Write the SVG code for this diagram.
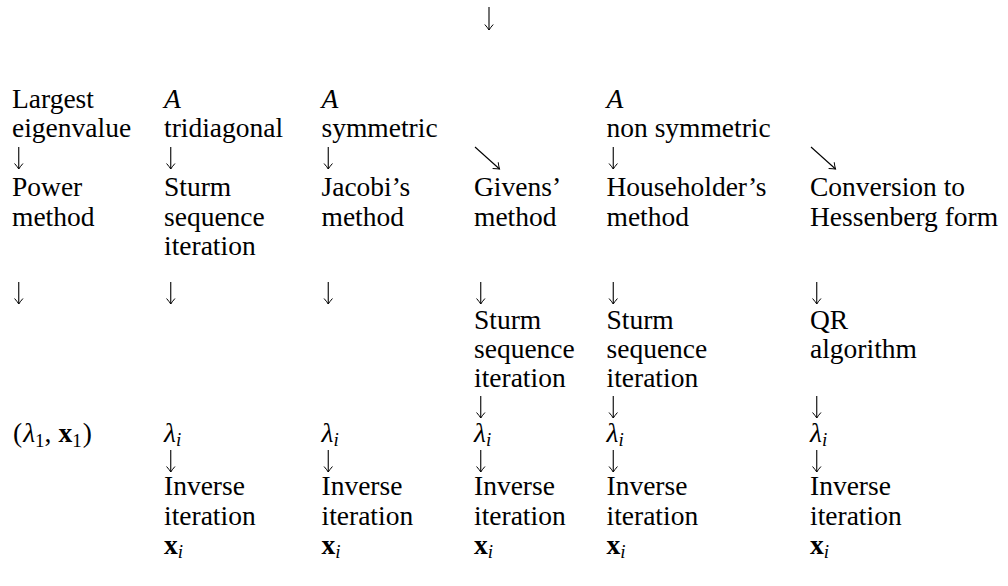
<svg xmlns="http://www.w3.org/2000/svg" width="1008" height="586" viewBox="0 0 1008 586">
<defs>
<style>
.t{font-family:"Liberation Serif","Times New Roman",serif;font-size:27.5px;fill:#000}
.i{font-style:italic}
.b{font-weight:bold}
.s{font-size:19px;font-style:italic}
.n{font-size:19px}
.c{stroke:#000;stroke-width:1.1;fill:none}
</style>
<marker id="ah" viewBox="-7 -6 8 12" refX="0" refY="0" markerWidth="8" markerHeight="12" markerUnits="userSpaceOnUse" orient="auto" overflow="visible">
<path d="M-5.5,-4.2 Q-1.8,-1 0,0 Q-1.8,1 -5.5,4.2" stroke="#000" stroke-width="1" fill="none"/>
</marker>
</defs>
<rect width="1008" height="586" fill="#fff"/>
<g id="connectors" class="c" marker-end="url(#ah)">
<path d="M489,7 V30"/>
<path d="M18.75,147 V169"/>
<path d="M170.75,147 V169"/>
<path d="M328.25,147 V169"/>
<path d="M475,147 L499.5,169"/>
<path d="M613.25,147 V169"/>
<path d="M811,147 L835.5,169"/>
<path d="M18.75,282 V304"/>
<path d="M170.75,282 V304"/>
<path d="M328.25,282 V304"/>
<path d="M480.75,282 V304"/>
<path d="M613.25,282 V304"/>
<path d="M816.75,282 V304"/>
<path d="M480.75,396 V418"/>
<path d="M613.25,396 V418"/>
<path d="M816.75,396 V418"/>
<path d="M170.75,450 V472"/>
<path d="M328.25,450 V472"/>
<path d="M480.75,450 V472"/>
<path d="M613.25,450 V472"/>
<path d="M816.75,450 V472"/>
</g>
<g class="t">
<g id="largest-eigenvalue"><text x="12" y="108">Largest</text><text x="12" y="137">eigenvalue</text></g>
<g id="a-tridiagonal"><text x="164" y="108" class="i">A</text><text x="164" y="137">tridiagonal</text></g>
<g id="a-symmetric"><text x="321.5" y="108" class="i">A</text><text x="321.5" y="137">symmetric</text></g>
<g id="a-nonsymmetric"><text x="606.5" y="108" class="i">A</text><text x="606.5" y="137">non symmetric</text></g>
<g id="power-method"><text x="12" y="196">Power</text><text x="12" y="226">method</text></g>
<g id="sturm-1"><text x="164" y="196">Sturm</text><text x="164" y="226">sequence</text><text x="164" y="255">iteration</text></g>
<g id="jacobi"><text x="321.5" y="196">Jacobi’s</text><text x="321.5" y="226">method</text></g>
<g id="givens"><text x="474" y="196">Givens’</text><text x="474" y="226">method</text></g>
<g id="householder"><text x="606.5" y="196">Householder’s</text><text x="606.5" y="226">method</text></g>
<g id="hessenberg"><text x="810" y="196">Conversion to</text><text x="810" y="226">Hessenberg form</text></g>
<g id="sturm-2"><text x="474" y="329">Sturm</text><text x="474" y="358">sequence</text><text x="474" y="387">iteration</text></g>
<g id="sturm-3"><text x="606.5" y="329">Sturm</text><text x="606.5" y="358">sequence</text><text x="606.5" y="387">iteration</text></g>
<g id="qr"><text x="810" y="329">QR</text><text x="810" y="358">algorithm</text></g>
<g id="result-power"><text x="13" y="442">(<tspan class="i" dx="1">λ</tspan><tspan class="n" dy="5">1</tspan><tspan dy="-5">,</tspan><tspan class="b" dx="7">x</tspan><tspan class="n" dy="5">1</tspan><tspan dy="-5" dx="1">)</tspan></text></g>
<g id="lambda-2"><text x="164" y="442"><tspan class="i">λ</tspan><tspan class="s" dy="4">i</tspan></text></g>
<g id="lambda-3"><text x="321.5" y="442"><tspan class="i">λ</tspan><tspan class="s" dy="4">i</tspan></text></g>
<g id="lambda-4"><text x="474" y="442"><tspan class="i">λ</tspan><tspan class="s" dy="4">i</tspan></text></g>
<g id="lambda-5"><text x="606.5" y="442"><tspan class="i">λ</tspan><tspan class="s" dy="4">i</tspan></text></g>
<g id="lambda-6"><text x="810" y="442"><tspan class="i">λ</tspan><tspan class="s" dy="4">i</tspan></text></g>
<g id="inverse-2"><text x="164" y="495">Inverse</text><text x="164" y="525">iteration</text><text x="164" y="554"><tspan class="b">x</tspan><tspan class="s" dy="4">i</tspan></text></g>
<g id="inverse-3"><text x="321.5" y="495">Inverse</text><text x="321.5" y="525">iteration</text><text x="321.5" y="554"><tspan class="b">x</tspan><tspan class="s" dy="4">i</tspan></text></g>
<g id="inverse-4"><text x="474" y="495">Inverse</text><text x="474" y="525">iteration</text><text x="474" y="554"><tspan class="b">x</tspan><tspan class="s" dy="4">i</tspan></text></g>
<g id="inverse-5"><text x="606.5" y="495">Inverse</text><text x="606.5" y="525">iteration</text><text x="606.5" y="554"><tspan class="b">x</tspan><tspan class="s" dy="4">i</tspan></text></g>
<g id="inverse-6"><text x="810" y="495">Inverse</text><text x="810" y="525">iteration</text><text x="810" y="554"><tspan class="b">x</tspan><tspan class="s" dy="4">i</tspan></text></g>
</g>
</svg>
